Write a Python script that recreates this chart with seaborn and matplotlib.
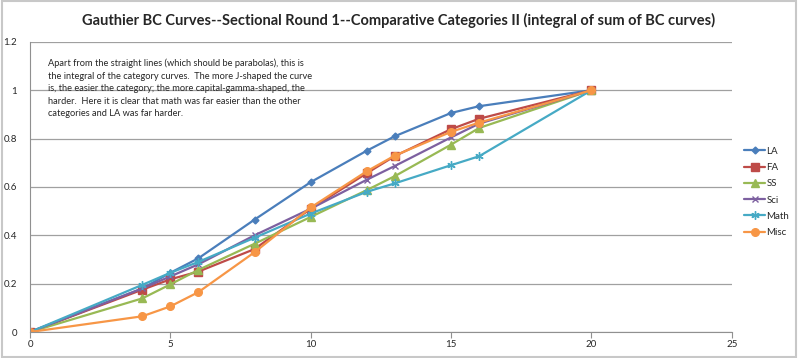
import matplotlib
matplotlib.use('Agg')
import matplotlib.pyplot as plt
import seaborn as sns
import pandas as pd

# round positions (x) shared by all categories
rounds = [0, 4, 5, 6, 8, 10, 12, 13, 15, 16, 20]

la = [0, 0.18, 0.245, 0.305, 0.465, 0.62, 0.75, 0.81, 0.906, 0.934, 1.0]
fa = [0, 0.175, 0.218, 0.25, 0.343, 0.51, 0.657, 0.728, 0.839, 0.882, 1.0]
ss = [0, 0.139, 0.197, 0.257, 0.365, 0.476, 0.587, 0.645, 0.775, 0.844, 1.0]
sci = [0, 0.18, 0.23, 0.28, 0.40, 0.51, 0.63, 0.687, 0.805, 0.862, 1.0]
math_ = [0, 0.195, 0.245, 0.29, 0.39, 0.49, 0.58, 0.615, 0.69, 0.727, 1.0]
misc = [0, 0.065, 0.106, 0.165, 0.33, 0.515, 0.665, 0.73, 0.828, 0.866, 1.0]

categories = ['LA', 'FA', 'SS', 'Sci', 'Math', 'Misc']
series = [la, fa, ss, sci, math_, misc]
colors = ['#4A7EBB', '#BE4B48', '#98B954', '#7D60A0', '#46AAC5', '#F79646']
markers = ['D', 's', '^', 'x', (6, 2, 0), 'o']
msizes = [3.5, 5.5, 5.5, 5, 6, 5.5]

rows = []
for cat, vals in zip(categories, series):
    for r, v in zip(rounds, vals):
        rows.append({'round': r, 'value': v, 'cat': cat})
df = pd.DataFrame(rows)

sns.set_style('white')
plt.rcParams['font.family'] = ['Lato', 'DejaVu Sans']

fig = plt.figure(figsize=(7.98, 3.58), dpi=100)
ax = fig.add_axes([0.0376, 0.0726, 0.8794, 0.8104])

for cat, col, mk, ms in zip(categories, colors, markers, msizes):
    sub = df[df['cat'] == cat]
    sns.lineplot(data=sub, x='round', y='value', ax=ax, color=col, marker=mk,
                 markersize=ms, markeredgecolor=col, markeredgewidth=1.0,
                 linewidth=1.6, label=cat, sort=False)

ax.set_xlim(0, 25)
ax.set_ylim(0, 1.2)
ax.set_xticks([0, 5, 10, 15, 20, 25])
ax.set_yticks([0, 0.2, 0.4, 0.6, 0.8, 1.0, 1.2])
ax.set_yticklabels(['0', '0.2', '0.4', '0.6', '0.8', '1', '1.2'])
ax.set_xlabel('')
ax.set_ylabel('')
ax.yaxis.grid(True, color='#A0A0A0', linewidth=0.9)
ax.set_axisbelow(True)
for s in ['top', 'right']:
    ax.spines[s].set_visible(False)
for s in ['left', 'bottom']:
    ax.spines[s].set_color('#909090')
ax.tick_params(axis='x', which='both', bottom=True, length=4, color='#909090',
               labelsize=7, pad=2)
ax.tick_params(axis='y', left=False, labelsize=7, pad=6)

fig.suptitle('Gauthier BC Curves--Sectional Round 1--Comparative Categories II (integral of sum of BC curves)',
             fontsize=10.5, fontweight='bold', x=0.5, y=0.944, va='center')

note = ("Apart from the straight lines (which should be parabolas), this is\n"
        "the integral of the category curves.  The more J-shaped the curve\n"
        "is, the easier the category; the more capital-gamma-shaped, the\n"
        "harder.  Here it is clear that math was far easier than the other\n"
        "categories and LA was far harder.")
ax.text(0.65, 1.13, note, fontsize=6.7, va='top', ha='left', linespacing=1.5)

leg = ax.legend(loc='center left', bbox_to_anchor=(1.005, 0.483), frameon=False,
                fontsize=7, handlelength=2.2, handletextpad=0.1, labelspacing=0.75)

fig.patches.append(plt.Rectangle((0.002, 0.003), 0.995, 0.994, transform=fig.transFigure,
                                 fill=False, edgecolor='#C8C8C8', linewidth=1.5))

fig.savefig('out.png', dpi=100)
